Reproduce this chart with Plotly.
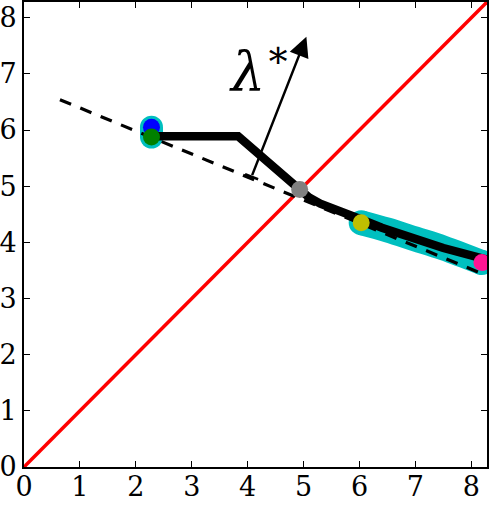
import plotly.graph_objects as go

# ---- data ----
diag_x = [0, 8.28]
diag_y = [0, 8.28]

dash_x = [0.643, 8.15]
dash_y = [6.54, 3.46]

path_x = [2.28, 3.83, 4.93, 5.1, 5.3, 5.6, 6.0, 6.4, 6.9, 7.5, 8.28]
path_y = [5.89, 5.89, 4.94, 4.80, 4.69, 4.56, 4.42, 4.26, 4.09, 3.90, 3.69]

band_left_x = [2.28, 2.28]
band_left_y = [6.05, 5.875]
band_right_x = [6.03, 6.5, 7.0, 7.5, 8.19]
band_right_y = [4.35, 4.22, 4.06, 3.90, 3.64]

pt_blue = ([2.28], [6.05])
pt_green = ([2.28], [5.875])
pt_gray = ([4.93], [4.94])
pt_yellow = ([6.03], [4.35])
pt_pink = ([8.19], [3.64])

arrow_start = (4.07, 5.17)
arrow_end = (5.05, 7.66)
bar_x = [3.954, 4.186]
bar_y = [5.216, 5.124]
label_pos = (4.22, 7.12)
label_text = "<i>λ</i><sup>∗</sup>"

x_ticks = [0, 1, 2, 3, 4, 5, 6, 7, 8]
y_ticks = [0, 1, 2, 3, 4, 5, 6, 7, 8]
axis_range = [0, 8.28]

SERIF = "DejaVu Serif"
CYAN = "#00bfbf"
fig = go.Figure()

fig.add_trace(go.Scatter(x=diag_x, y=diag_y, mode="lines",
                         line=dict(color="#ff0000", width=3.5)))
for bx, by, w in [(band_left_x, band_left_y, 23), (band_right_x, band_right_y, 25)]:
    fig.add_trace(go.Scatter(x=bx, y=by, mode="lines",
                             line=dict(color=CYAN, width=w, shape="spline")))
    fig.add_trace(go.Scatter(x=[bx[0], bx[-1]], y=[by[0], by[-1]], mode="markers",
                             marker=dict(color=CYAN, size=w, line=dict(width=0))))
fig.add_trace(go.Scatter(x=dash_x, y=dash_y, mode="lines",
                         line=dict(color="black", width=3.2, dash="12px,10px")))
fig.add_trace(go.Scatter(x=path_x, y=path_y, mode="lines",
                         line=dict(color="black", width=8.5)))
fig.add_trace(go.Scatter(x=bar_x, y=bar_y, mode="lines",
                         line=dict(color="black", width=2.5)))

for (px, py), col in [(pt_blue, "#0000ff"), (pt_green, "#008000"), (pt_gray, "#808080"),
                      (pt_yellow, "#bfbf00"), (pt_pink, "#ff1493")]:
    fig.add_trace(go.Scatter(x=px, y=py, mode="markers",
                             marker=dict(color=col, size=17, line=dict(width=0))))

fig.add_annotation(x=arrow_end[0], y=arrow_end[1], ax=arrow_start[0], ay=arrow_start[1],
                   xref="x", yref="y", axref="x", ayref="y", text="", showarrow=True,
                   arrowhead=2, arrowsize=1.6, arrowwidth=2.5, arrowcolor="black")
fig.add_annotation(x=label_pos[0], y=label_pos[1], xref="x", yref="y",
                   text=label_text, showarrow=False,
                   font=dict(family=SERIF, size=54, color="black"))

axis_common = dict(range=axis_range, showgrid=False, zeroline=False, showline=True,
                   linecolor="black", linewidth=2, mirror="ticks", ticks="inside",
                   ticklen=6, tickwidth=1, tickcolor="black", automargin=False,
                   tickfont=dict(family=SERIF, size=27, color="black"))
fig.update_xaxes(tickvals=x_ticks, ticktext=[str(v) for v in x_ticks],
                 ticklabelstandoff=-5, **axis_common)
fig.update_yaxes(tickvals=y_ticks, ticktext=[str(v) for v in y_ticks], **axis_common)

fig.update_layout(width=490, height=505, showlegend=False,
                  margin=dict(l=24, r=3, t=2, b=38),
                  paper_bgcolor="white", plot_bgcolor="white")

fig.write_html("out.html")
